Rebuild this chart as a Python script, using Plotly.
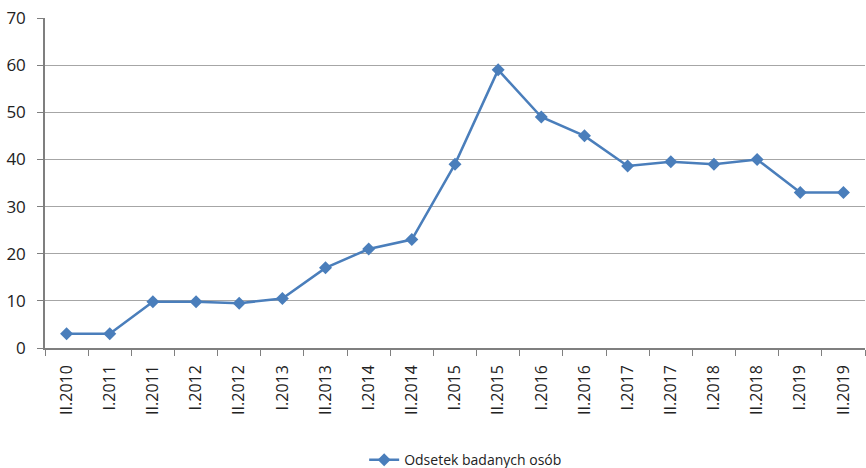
import plotly.graph_objects as go

categories = ["II.2010", "I.2011", "II.2011", "I.2012", "II.2012", "I.2013", "II.2013",
              "I.2014", "II.2014", "I.2015", "II.2015", "I.2016", "II.2016", "I.2017",
              "II.2017", "I.2018", "II.2018", "I.2019", "II.2019"]
values = [3, 3, 9.8, 9.8, 9.5, 10.5, 17, 21, 23, 39, 59, 49, 45, 38.6, 39.5, 39, 40, 33, 33]
series_name = "Odsetek badanych osób"
y_ticks = [0, 10, 20, 30, 40, 50, 60, 70]

color = "#4A7EBB"
font_family = "Open Sans"

fig = go.Figure()
fig.add_trace(go.Scatter(
    x=categories, y=values, name=series_name, mode="lines+markers",
    line=dict(color=color, width=2.5),
    marker=dict(symbol="diamond", size=10, color=color),
))

fig.update_layout(
    width=866, height=468,
    margin=dict(l=45, r=1, t=18, b=120, autoexpand=False),
    paper_bgcolor="white", plot_bgcolor="white",
    font=dict(family=font_family, size=14, color="#222222"),
    showlegend=True,
    legend=dict(orientation="h", x=0.513, xanchor="center", yref="container",
                y=0.017, yanchor="middle",
                font=dict(size=14, color="#222222")),
    xaxis=dict(
        type="category", range=[-0.5, len(categories) - 0.5],
        tickangle=-90, showgrid=False, automargin=False,
        showline=True, linecolor="#7f7f7f", linewidth=1.5,
        ticks="outside", tickson="boundaries", ticklen=6, tickcolor="#7f7f7f",
        tickfont=dict(size=16), ticklabelstandoff=9,
    ),
    yaxis=dict(
        range=[0, 70], tickvals=y_ticks, showgrid=True, gridcolor="#a6a6a6", gridwidth=1.2,
        showline=True, linecolor="#7f7f7f", linewidth=1.5, automargin=False,
        ticks="outside", ticklen=6, tickcolor="#7f7f7f", zeroline=False,
        tickfont=dict(size=17), ticklabelstandoff=8,
    ),
)

fig.write_html("out.html")
